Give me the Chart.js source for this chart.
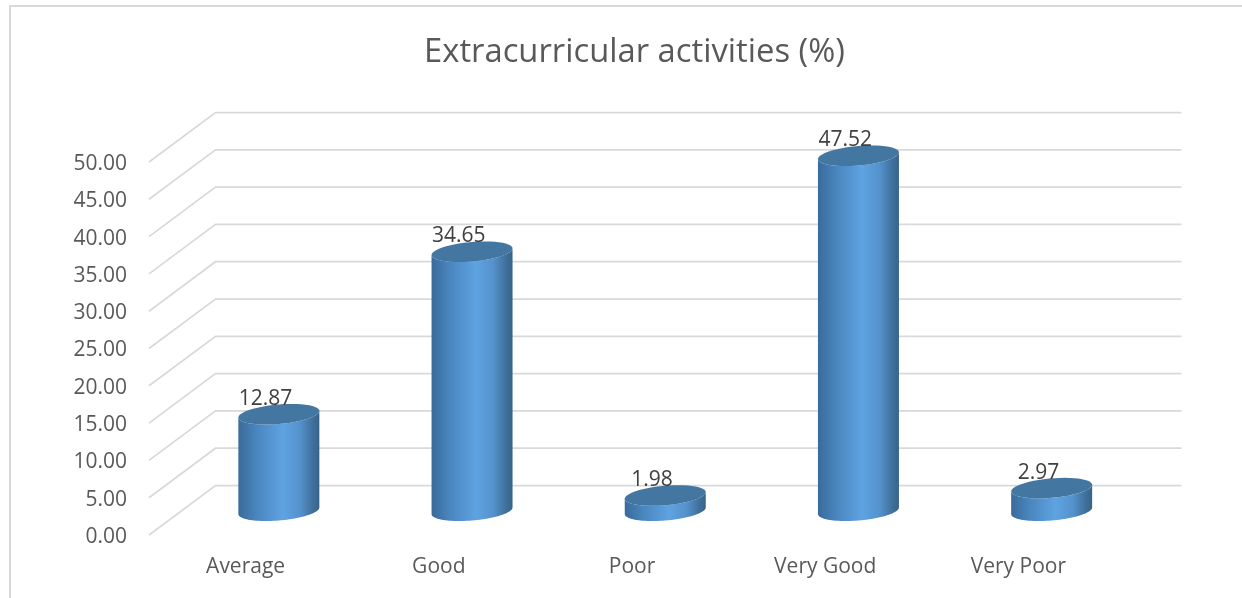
<!DOCTYPE html>
<html>
<head>
<meta charset="utf-8">
<style>html,body{margin:0;padding:0;background:#fff}#wrap{width:1242px;height:598px}canvas{display:block}</style>
<script src="https://cdn.jsdelivr.net/npm/chart.js@4"></script>
</head>
<body>
<div id="wrap"><canvas id="c" width="1242" height="598"></canvas></div>
<script>
const categories = ["Average", "Good", "Poor", "Very Good", "Very Poor"];
const values = [12.87, 34.65, 1.98, 47.52, 2.97];
const chartTitle = "Extracurricular activities (%)";

const FONT = "'Open Sans'";
const DEPTH_X = 66.5, DEPTH_Y = 49.5;

function ellipsePath(ctx, cx, cy, ux, vx, vy, from, to, first) {
  const n = 48;
  for (let i = 0; i <= n; i++) {
    const t = from + (to - from) * i / n;
    const x = cx + Math.cos(t) * ux + Math.sin(t) * vx;
    const y = cy + Math.sin(t) * vy;
    if (i === 0 && first) ctx.moveTo(x, y); else ctx.lineTo(x, y);
  }
}

const frame3d = {
  id: 'frame3d',
  afterLayout(chart) {
    if (chart.titleBlock) chart.titleBlock.left += 5;
  },
  beforeDatasetsDraw(chart) {
    const { ctx, scales: { y }, chartArea: a } = chart;
    ctx.save();
    ctx.strokeStyle = '#d9d9d9';
    ctx.lineWidth = 2;
    ctx.beginPath();
    ctx.moveTo(10, 598); ctx.lineTo(10, 6); ctx.lineTo(1242, 6);
    ctx.stroke();
    ctx.lineWidth = 1.75;
    y.ticks.forEach((t, i) => {
      const py = y.getPixelForTick(i);
      ctx.beginPath();
      ctx.moveTo(a.left, py);
      ctx.lineTo(a.left + DEPTH_X, py - DEPTH_Y);
      ctx.lineTo(a.right + DEPTH_X, py - DEPTH_Y);
      ctx.stroke();
    });
    ctx.restore();
  },
  beforeDatasetDraw(chart, args) {
    const { ctx } = chart;
    const els = args.meta.data;
    ctx.save();
    els.forEach((el) => {
      const half = el.width / 2;
      const cx = el.x + DEPTH_X / 2;
      const topY = el.y - DEPTH_Y / 2;
      const botY = el.base - DEPTH_Y / 2 + 0.5;
      const vx = 13, vy = -10.3;
      const ux = Math.sqrt(half * half - vx * vx);
      const t0 = Math.atan2(vx, ux);
      const grad = ctx.createLinearGradient(cx - half, 0, cx + half, 0);
      grad.addColorStop(0, '#396b9a');
      grad.addColorStop(0.23, '#4a86bf');
      grad.addColorStop(0.55, '#5ea3e2');
      grad.addColorStop(0.76, '#5592cc');
      grad.addColorStop(0.92, '#3f709b');
      grad.addColorStop(1, '#386388');
      ctx.beginPath();
      ellipsePath(ctx, cx, botY, ux, vx, vy, t0, t0 - Math.PI, true);
      ellipsePath(ctx, cx, topY, ux, vx, vy, t0 - Math.PI, t0, false);
      ctx.closePath();
      ctx.fillStyle = grad;
      ctx.fill();
      ctx.beginPath();
      ellipsePath(ctx, cx, topY, ux, vx, vy, 0, Math.PI * 2, true);
      ctx.closePath();
      ctx.fillStyle = '#4476a2';
      ctx.fill();
    });
    ctx.restore();
    return false;
  },
  afterDatasetsDraw(chart) {
    const { ctx } = chart;
    const meta = chart.getDatasetMeta(0);
    ctx.save();
    ctx.font = '21px ' + FONT;
    ctx.fillStyle = '#404040';
    ctx.textAlign = 'center';
    ctx.textBaseline = 'middle';
    meta.data.forEach((el, i) => {
      ctx.fillText(values[i].toFixed(2), el.x + 20, el.y - DEPTH_Y / 2 - 15.5);
    });
    ctx.restore();
  }
};

new Chart(document.getElementById('c'), {
  type: 'bar',
  data: {
    labels: categories,
    datasets: [{ data: values, backgroundColor: '#5b9bd5', barThickness: 81 }]
  },
  plugins: [frame3d],
  options: {
    responsive: false,
    animation: false,
    layout: { padding: { left: 0, right: 127, top: 0, bottom: 0 } },
    plugins: {
      legend: { display: false },
      tooltip: { enabled: false },
      title: {
        display: true,
        text: chartTitle,
        fullSize: false,
        color: '#595959',
        font: { family: FONT, size: 32.75, weight: 'normal', lineHeight: 1.2 },
        padding: { top: 33, bottom: 89.7 }
      }
    },
    scales: {
      x: {
        grid: { display: false, drawTicks: false },
        border: { display: false },
        ticks: { color: '#595959', font: { family: FONT, size: 21 }, padding: 19, maxRotation: 0 },
        afterFit(s) { s.height = 63; }
      },
      y: {
        min: 0, max: 50,
        grid: { display: false, drawTicks: false },
        border: { display: false },
        ticks: {
          stepSize: 5,
          color: '#595959',
          font: { family: FONT, size: 21 },
          padding: 22,
          labelOffset: 2,
          callback: v => Number(v).toFixed(2)
        },
        afterFit(s) { s.width = 149; }
      }
    }
  }
});
</script>
</body>
</html>
